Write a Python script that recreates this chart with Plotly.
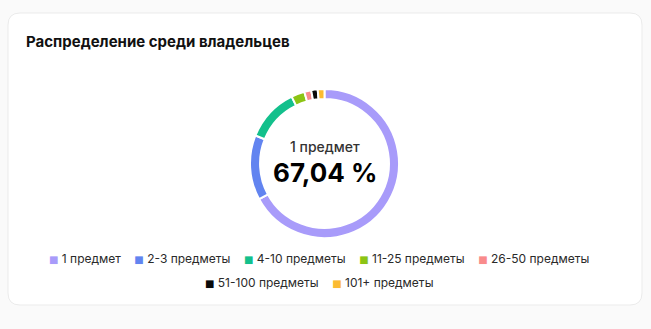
import plotly.graph_objects as go

categories = ["1 предмет", "2-3 предметы", "4-10 предметы", "11-25 предметы",
              "26-50 предметы", "51-100 предметы", "101+ предметы"]
values = [67.04, 14.10, 11.60, 2.90, 1.50, 1.40, 1.46]
colors = ["#a89bfa", "#6284f0", "#13c08c", "#8cc414", "#f98b8b", "#0a0a0a", "#fbbb32"]
title_text = "Распределение среди владельцев"

W, H = 651, 329
FONT = "Inter"

def px(x):
    return x / W

def py(y):
    return 1 - y / H

cx, cy, r = 324.5, 163.5, 74.5

fig = go.Figure()
fig.add_trace(go.Pie(
    labels=categories, values=values, sort=False, direction="clockwise", rotation=0,
    hole=0.865, marker=dict(colors=colors, line=dict(color="white", width=2)),
    textinfo="none", hoverinfo="label+percent", showlegend=False,
    domain=dict(x=[px(cx - r), px(cx + r)], y=[py(cy + r), py(cy - r)]),
))

# card background
x0, x1 = px(8), px(642)
y0, y1 = py(305), py(13)
rx, ry = 12 / W, 12 / H
path = (f"M {x0+rx},{y0} L {x1-rx},{y0} Q {x1},{y0} {x1},{y0+ry} "
        f"L {x1},{y1-ry} Q {x1},{y1} {x1-rx},{y1} L {x0+rx},{y1} "
        f"Q {x0},{y1} {x0},{y1-ry} L {x0},{y0+ry} Q {x0},{y0} {x0+rx},{y0} Z")
fig.add_shape(type="path", xref="paper", yref="paper", path=path,
              fillcolor="white", line=dict(color="#ebebeb", width=1), layer="below")

pct = values[0] / sum(values) * 100
fig.add_annotation(x=px(24), y=py(42), xref="paper", yref="paper", xanchor="left",
                   yanchor="middle", showarrow=False, text=title_text,
                   font=dict(family=FONT, size=15, color="#111111", weight=700))
fig.add_annotation(x=px(cx), y=py(146), xref="paper", yref="paper", xanchor="center",
                   yanchor="middle", showarrow=False, text=categories[0],
                   font=dict(family=FONT, size=14, color="#333333", weight=500))
fig.add_annotation(x=px(cx), y=py(172), xref="paper", yref="paper", xanchor="center",
                   yanchor="middle", showarrow=False,
                   text=f"{pct:.2f}".replace(".", ",") + " %",
                   font=dict(family=FONT, size=26, color="#000000", weight=700))

# legend rows (built from categories / colors)
def legend_item(cat, col):
    return (f"<span style='color:{col};font-family:DejaVu Sans;font-size:10px'>■</span>"
            f"&nbsp;{cat}")

rows = [(range(0, 5), 258), (range(5, 7), 282)]
for idx, ypos in rows:
    text = "&nbsp;&nbsp;&nbsp;&nbsp;".join(legend_item(categories[i], colors[i]) for i in idx)
    fig.add_annotation(x=px(319), y=py(ypos), xref="paper", yref="paper", xanchor="center",
                       yanchor="middle", showarrow=False, text=text,
                       font=dict(family=FONT, size=12, color="#2a2a2a"))

fig.update_layout(
    width=W, height=H, margin=dict(l=0, r=0, t=0, b=0),
    paper_bgcolor="#fafafa", plot_bgcolor="rgba(0,0,0,0)",
    showlegend=False,
)

fig.write_html("out.html")
